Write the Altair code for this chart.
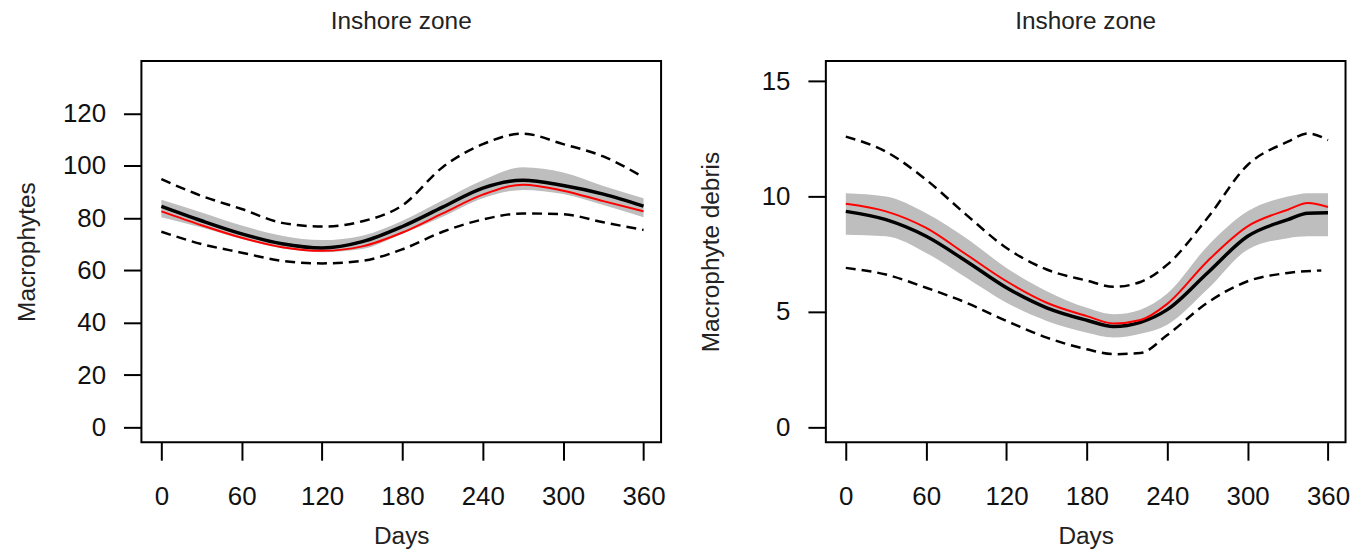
import altair as alt
import pandas as pd

FONT = "Liberation Sans"

# ---------------- Left panel: Macrophytes ----------------
L_DAYS = [0, 30, 60, 90, 120, 150, 180, 210, 240, 270, 300, 330, 360]
L_MEAN = [84.5, 79.0, 74.0, 70.2, 68.6, 71.0, 76.8, 84.2, 91.5, 94.5, 92.5, 89.2, 84.6]
L_RED = [82.6, 77.3, 72.5, 68.9, 67.5, 69.2, 74.5, 81.8, 89.0, 92.8, 90.5, 86.5, 82.6]
L_BAND_HI = [87.0, 82.2, 77.2, 73.3, 71.6, 73.3, 79.0, 86.8, 94.5, 99.5, 97.5, 92.3, 87.6]
L_BAND_LO = [80.3, 76.4, 72.0, 68.5, 67.0, 68.2, 74.0, 80.5, 87.6, 90.8, 89.2, 85.0, 80.3]
L_DASH_HI = [94.9, 88.5, 83.5, 78.2, 76.8, 78.8, 84.9, 99.5, 108.3, 112.3, 108.3, 103.6, 95.6]
L_DASH_LO = [74.8, 70.1, 66.8, 63.7, 62.7, 63.7, 68.1, 74.8, 79.5, 81.8, 81.5, 78.4, 75.5]

# ---------------- Right panel: Macrophyte debris ----------------
R_DAYS = [0, 30, 60, 90, 120, 150, 180, 200, 220, 240, 270, 300, 330, 345, 360]
R_MEAN = [9.36, 9.0, 8.28, 7.2, 6.05, 5.18, 4.64, 4.37, 4.55, 5.1, 6.69, 8.28, 9.0, 9.28, 9.3]
R_RED = [9.69, 9.36, 8.64, 7.49, 6.33, 5.4, 4.82, 4.5, 4.65, 5.35, 7.2, 8.71, 9.43, 9.72, 9.55]
R_BAND_HI = [10.15, 10.0, 9.28, 8.2, 6.91, 5.9, 5.18, 4.9, 5.1, 5.8, 7.85, 9.36, 10.0, 10.15, 10.15]
R_BAND_LO = [8.35, 8.28, 7.56, 6.48, 5.4, 4.61, 4.1, 3.89, 4.05, 4.45, 5.98, 7.7, 8.2, 8.28, 8.28]
R_DASH_HI = [12.6, 11.95, 10.73, 9.21, 7.77, 6.84, 6.36, 6.09, 6.3, 7.05, 9.07, 11.37, 12.38, 12.74, 12.45]
R_DASH_LO_DAYS = [0, 30, 60, 90, 120, 150, 180, 200, 220, 240, 270, 300, 330, 355]
R_DASH_LO = [6.91, 6.62, 6.05, 5.4, 4.61, 3.89, 3.38, 3.17, 3.22, 4.0, 5.4, 6.33, 6.69, 6.8]

X_TICKS = [0, 60, 120, 180, 240, 300, 360]
L_Y_TICKS = [0, 20, 40, 60, 80, 100, 120]
R_Y_TICKS = [0, 5, 10, 15]

TITLE = "Inshore zone"


def panel(days, mean, red, blo, bhi, dhi, dlo_days, dlo, ydomain, yticks, ytitle):
    band_df = pd.DataFrame({"day": days, "lo": blo, "hi": bhi})
    mean_df = pd.DataFrame({"day": days, "v": mean})
    red_df = pd.DataFrame({"day": days, "v": red})
    dhi_df = pd.DataFrame({"day": days, "v": dhi})
    dlo_df = pd.DataFrame({"day": dlo_days, "v": dlo})

    xs = alt.Scale(domain=[-14.9, 373.1], nice=False, zero=False)
    ys = alt.Scale(domain=ydomain, nice=False, zero=False)
    xax = alt.Axis(values=X_TICKS, title="Days", domain=False, grid=False,
                   tickSize=18, tickWidth=2, tickColor="black",
                   labelFontSize=26, labelFont=FONT, labelColor="#111111",
                   labelPadding=24, labelFlush=False,
                   titleFontSize=24.5, titleFont=FONT, titleFontWeight="normal",
                   titleColor="#222222", titlePadding=15)
    yax = alt.Axis(values=yticks, title=ytitle, domain=False, grid=False,
                   tickSize=18, tickWidth=2, tickColor="black",
                   labelFontSize=26, labelFont=FONT, labelColor="#111111",
                   labelPadding=18, labelFlush=False,
                   titleFontSize=24.5, titleFont=FONT, titleFontWeight="normal",
                   titleColor="#222222", titleX=-102.5)

    band = alt.Chart(band_df).mark_area(color="#BEBEBE", opacity=1, interpolate="monotone").encode(
        x=alt.X("day:Q", scale=xs, axis=xax),
        y=alt.Y("lo:Q", scale=ys, axis=yax),
        y2="hi:Q",
    )

    def line(df, color, width, dash=None):
        kw = dict(color=color, strokeWidth=width, interpolate="monotone")
        if dash:
            kw["strokeDash"] = dash
        return alt.Chart(df).mark_line(**kw).encode(
            x=alt.X("day:Q", scale=xs, axis=xax),
            y=alt.Y("v:Q", scale=ys, axis=yax),
        )

    layers = alt.layer(
        band,
        line(dhi_df, "black", 2.5, [10, 6]),
        line(dlo_df, "black", 2.5, [10, 6]),
        line(mean_df, "black", 3.5),
        line(red_df, "#FF0000", 2),
    ).properties(
        width=522, height=383,
        title=alt.TitleParams(TITLE, fontSize=24.5, fontWeight="normal", font=FONT,
                              color="#222222", frame="group", anchor="middle",
                              baseline="alphabetic", offset=8),
    )
    return layers


left = panel(L_DAYS, L_MEAN, L_RED, L_BAND_LO, L_BAND_HI, L_DASH_HI, L_DAYS, L_DASH_LO,
             [-5.7, 140.1], L_Y_TICKS, "Macrophytes")
right = panel(R_DAYS, R_MEAN, R_RED, R_BAND_LO, R_BAND_HI, R_DASH_HI, R_DASH_LO_DAYS, R_DASH_LO,
              [-0.65, 15.88], R_Y_TICKS, "Macrophyte debris")

chart = alt.hconcat(left, right, spacing=30.5).properties(
    padding={"left": 5, "top": -2, "right": 0, "bottom": 0}
).configure(background="white").configure_view(
    stroke="black", strokeWidth=2
)

chart.save("out.html", embed_options={"renderer": "svg", "actions": False})
